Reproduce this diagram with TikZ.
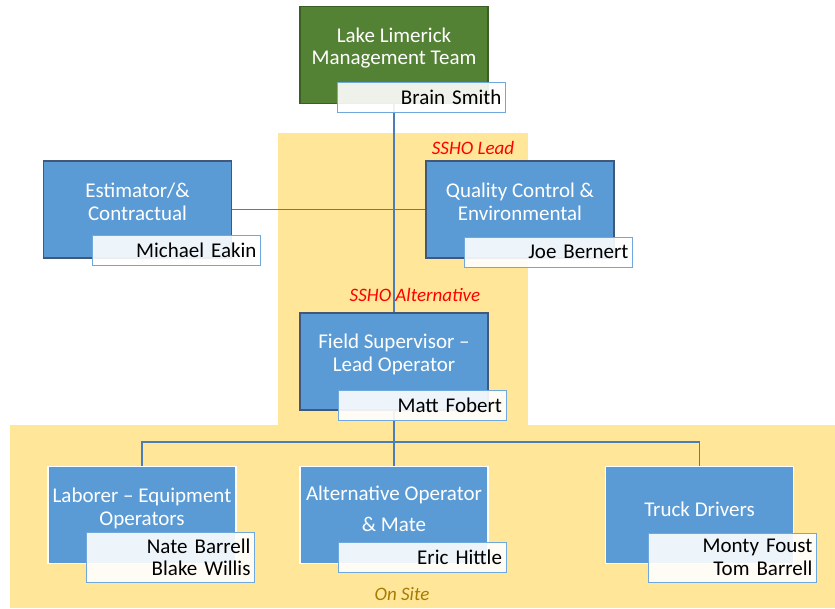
\documentclass[tikz,border=0pt]{standalone}
\usepackage{fontspec}
\setmainfont{Carlito}
\usepackage{tikz}
\usetikzlibrary{positioning}

\definecolor{zone}{HTML}{FFE699}
\definecolor{unitblue}{HTML}{5B9BD5}
\definecolor{unitedge}{HTML}{41587A}
\definecolor{mgmtgreen}{HTML}{548235}
\definecolor{mgmtedge}{HTML}{3B5E25}
\definecolor{tagedge}{HTML}{6FA8DC}
\definecolor{wireblue}{HTML}{4A7EBB}
\definecolor{sitegold}{HTML}{A67C00}

\begin{document}
\begin{tikzpicture}[
	x=1pt, y=-1pt,
	font=\fontsize{21}{22.5}\selectfont,
	box/.style = {rectangle, draw=unitedge, fill=unitblue, line width=1.2pt, minimum width=188pt, minimum height=97pt, inner sep=0pt},
	lowbox/.style = {box, draw=white, line width=1.5pt},
	title/.style = {text=white, align=center, inner sep=0pt},
	tag/.style = {rectangle, draw=tagedge, line width=1pt, fill=white, fill opacity=0.9, text opacity=1, minimum width=168pt, minimum height=30pt, text width=160pt, align=right, inner sep=0pt},
	note/.style = {font=\fontsize{19}{20}\selectfont\itshape, inner sep=0pt},
	line/.style = {draw=wireblue, line width=1.6pt}
	]
	\useasboundingbox (0,0) rectangle (835,608);

	% Site zones
	\fill[zone] (278,133) rectangle (528,426);
	\fill[zone] (10,425) rectangle (835,608);

	% Nodes
	\node [box, fill=mgmtgreen, draw=mgmtedge] (mgmt) at (394,55) {};
	\node [title] at ([yshift=7pt]mgmt.center) {Lake Limerick\\Management Team};

	\node [box] (estim) at (137.5,209.5) {};
	\node [title] at ([yshift=7.5pt]estim.center) {Estimator/\&\\Contractual};

	\node [box] (quality) at (520,209.5) {};
	\node [title] at ([yshift=7.5pt]quality.center) {Quality Control \&\\Environmental};

	\node [box] (field) at (394,361.5) {};
	\node [title] at ([yshift=7pt]field.center) {Field Supervisor --\\Lead Operator};

	% Crew on site
	\node [lowbox] (labor) at (142,515) {};
	\node [title] at ([yshift=6.5pt]labor.center) {Laborer -- Equipment\\Operators};

	\node [lowbox] (altop) at (394,515) {};
	\node [title] at ([yshift=6pt]altop.center) {Alternative Operator\\[9pt]\& Mate};

	\node [lowbox] (truck) at (699.5,515) {};
	\node [title] at ([yshift=6pt]truck.center) {Truck Drivers};

	\coordinate (split) at (394,442);

	% Lines
	\path [line] (mgmt.south) -- (field.north);
	\path [line] (estim.east) -- (quality.west);
	\path [line] (field.south) -- (split);
	\path [line] (split) -| (labor.north);
	\path [line] (split) -- (altop.north);
	\path [line] (split) -| (truck.north);

	% Names
	\node [tag] (brain) at (421.5,97) {Brain Smith};
	\node [tag] (eakin) at (176.5,250.5) {Michael Eakin};
	\node [tag] (bernert) at (548.5,252) {Joe Bernert};
	\node [tag] (fobert) at (422,405) {Matt Fobert};
	\node [tag, minimum height=50pt] (laborers) at (170.5,557.5) {Nate Barrell\\Blake Willis};
	\node [tag] (hittle) at (422,557.5) {Eric Hittle};
	\node [tag, minimum height=49pt] (drivers) at (732.5,557.5) {Monty Foust\\Tom Barrell};

	% Roles
	\node [note, text=red] (lead) at (473,148) {SSHO Lead};
	\node [note, text=red] (altlead) at (415,295) {SSHO Alternative};
	\node [note, text=sitegold] (onsite) at (402,594) {On Site};
\end{tikzpicture}
\end{document}
